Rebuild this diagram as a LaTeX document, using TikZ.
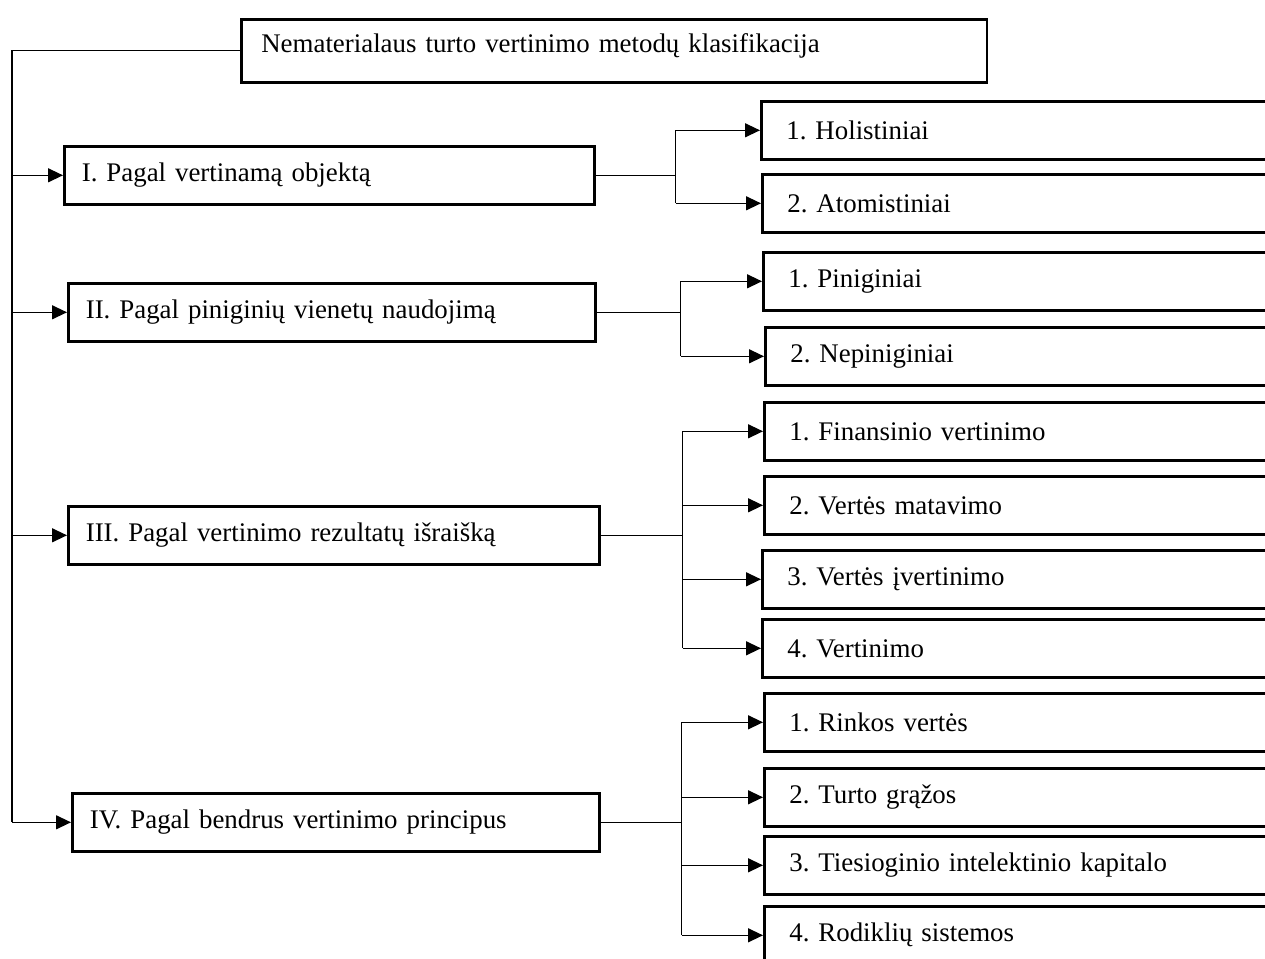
\documentclass[tikz,border=0pt]{standalone}
\usepackage{fontspec}
\setmainfont{Liberation Serif}
\usetikzlibrary{arrows.meta,calc}

\begin{document}
\begin{tikzpicture}[x=0.02cm, y=-0.02cm, font=\fontsize{15.3}{18}\selectfont\frenchspacing,
  lbox/.style={draw, line width=1.5pt, anchor=north west, align=left,
    inner xsep=0.35cm, inner ysep=0pt, minimum height=1.16cm},
  rbox/.style={lbox, inner xsep=0.5cm, text width=9.8cm},
  link/.style={line width=0.75pt},
  arr/.style={link, -{Triangle[length=0.3cm, width=0.28cm]}}]
  \useasboundingbox (0,0) rectangle (1265,959);
  \clip (0,0) rectangle (1265,959);

  % title and the four criteria
  \node[lbox, inner xsep=0.4cm, text width=14.12cm, minimum height=1.26cm, text depth=0.32cm] (title) at (240,18)
    {Nematerialaus turto vertinimo metodų klasifikacija};
  \node[lbox, text width=9.9cm] (objektas) at (63,145) {I. Pagal vertinamą objektą};
  \node[lbox, text width=9.84cm] (vienetai) at (67,282) {II. Pagal piniginių vienetų naudojimą};
  \node[lbox, text width=9.92cm] (rezultatai) at (67,505) {III. Pagal vertinimo rezultatų išraišką};
  \node[lbox, text width=9.84cm] (principai) at (71,792) {IV. Pagal bendrus vertinimo principus};

  % method groups (right column, cut by the page edge)
  \foreach \n/\x/\y/\t in {holist/760/100/1. Holistiniai, atomist/761/173/2. Atomistiniai,
      pinig/762/251/1. Piniginiai, nepinig/764/326/2. Nepiniginiai,
      finans/763/401/1. Finansinio vertinimo, matav/763/475/2. Vertės matavimo,
      ivert/761/549/3. Vertės įvertinimo, vertin/761/618/4. Vertinimo,
      rinkos/763/692/1. Rinkos vertės, grazos/763/767/2. Turto grąžos,
      tiesiog/763/835/3. Tiesioginio intelektinio kapitalo, rodikl/763/905/4. Rodiklių sistemos}
    \node[rbox] (\n) at (\x,\y) {\t};

  % left spine
  \coordinate (spine) at (12,0);
  \draw[link] (title.west) -- (spine |- title.west) -- (spine |- principai.west);
  \foreach \b in {objektas,vienetai,rezultatai,principai}
    \draw[arr] (spine |- \b.west) -- (\b.west);

  % forks to the groups
  \draw[link] (objektas.east) -- ++(80,0) coordinate (f1);
  \draw[link] (f1 |- holist.west) -- (f1 |- atomist.west);
  \foreach \r in {holist,atomist}
    \draw[arr] (f1 |- \r.west) -- (\r.west);

  \draw[link] (vienetai.east) -- ++(84,0) coordinate (f2);
  \draw[link] (f2 |- pinig.west) -- (f2 |- nepinig.west);
  \foreach \r in {pinig,nepinig}
    \draw[arr] (f2 |- \r.west) -- (\r.west);

  \draw[link] (rezultatai.east) -- ++(82,0) coordinate (f3);
  \draw[link] (f3 |- finans.west) -- (f3 |- vertin.west);
  \foreach \r in {finans,matav,ivert,vertin}
    \draw[arr] (f3 |- \r.west) -- (\r.west);

  \draw[link] (principai.east) -- ++(81,0) coordinate (f4);
  \draw[link] (f4 |- rinkos.west) -- (f4 |- rodikl.west);
  \foreach \r in {rinkos,grazos,tiesiog,rodikl}
    \draw[arr] (f4 |- \r.west) -- (\r.west);
\end{tikzpicture}
\end{document}
